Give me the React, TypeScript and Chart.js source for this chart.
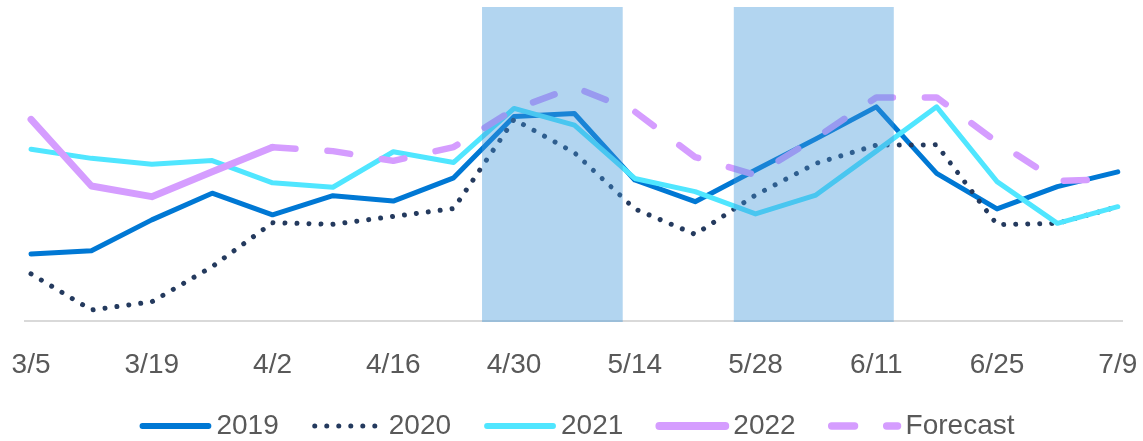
import React, { useEffect, useRef } from 'react';
import { Chart, registerables } from 'chart.js';

Chart.register(...registerables);

const weekLabels = ['3/5', '3/12', '3/19', '3/26', '4/2', '4/9', '4/16', '4/23', '4/30', '5/7', '5/14', '5/21', '5/28', '6/4', '6/11', '6/18', '6/25', '7/2', '7/9'];
const tickIndexes = [0, 2, 4, 6, 8, 10, 12, 14, 16, 18];

const series2019 = [21.3, 22.4, 32.2, 40.7, 33.8, 39.9, 38.2, 45.6, 65.1, 66.1, 44.9, 38.0, 48.1, 58.0, 68.2, 47.0, 35.7, 42.8, 47.5];
const series2020 = [15.0, 3.5, 6.1, 17.3, 31.3, 30.8, 33.3, 35.8, 64.2, 53.6, 35.7, 27.6, 40.1, 50.2, 56.0, 56.1, 30.7, 31.1, 36.4];
const series2021 = [54.7, 51.8, 49.9, 51.1, 44.0, 42.6, 53.9, 50.5, 67.7, 62.4, 45.4, 41.2, 34.1, 40.1, 54.1, 68.2, 44.4, 31.1, 36.4];
const series2022 = [64.2, 43.0, 39.6, 47.5, 55.3, null, null, null, null, null, null, null, null, null, null, null, null, null, null];
const seriesForecast = [null, null, null, null, 55.3, 54.1, 51.0, 55.4, 67.4, 74.5, 66.7, 52.2, 46.5, 58.3, 71.2, 71.2, 57.0, 44.6, 45.2];

// shaded periods, in week-index units
const shadeStart = [7.47, 11.64];
const shadeEnd = [9.8, 14.29];

const toPoints = (arr: (number | null)[]) => arr.map((v, i) => ({ x: i, y: v }));

function pickFont() {
  const c = document.createElement('canvas').getContext('2d');
  if (!c) return { family: '"Liberation Sans", Arial, sans-serif', size: 28 };
  c.font = '100px "Liberation Sans Narrow", monospace';
  const a = c.measureText('2019 Forecast').width;
  c.font = '100px monospace';
  const b = c.measureText('2019 Forecast').width;
  if (Math.abs(a - b) > 1) return { family: '"Liberation Sans Narrow", "Liberation Sans", sans-serif', size: 34 };
  return { family: '"Liberation Sans", Arial, sans-serif', size: 28 };
}

export default function App() {
  const ref = useRef<HTMLCanvasElement>(null);

  useEffect(() => {
    if (!ref.current) return;
    const font = pickFont();
    Chart.defaults.font.family = font.family;

    const shadePlugin = {
      id: 'shade',
      afterDatasetsDraw(chart: any) {
        const { ctx, chartArea, scales } = chart;
        const x = scales.x;
        ctx.save();
        ctx.fillStyle = 'rgba(62,150,217,0.4)';
        shadeStart.forEach((s, k) => {
          const x0 = x.getPixelForValue(s);
          const x1 = x.getPixelForValue(shadeEnd[k]);
          ctx.fillRect(x0, chartArea.top, x1 - x0, chartArea.bottom - chartArea.top + 1);
        });
        ctx.restore();
      },
    };

    const legendPlugin = {
      id: 'lineLegend',
      afterDraw(chart: any) {
        const { ctx, width, height } = chart;
        const ds = chart.data.datasets;
        const L = 66, gap = 8, spacing = 36;
        ctx.save();
        ctx.font = `${font.size}px ${font.family}`;
        const widths = ds.map((d: any) => ctx.measureText(d.label).width);
        const total = widths.reduce((a: number, w: number) => a + L + gap + w, 0) + spacing * (ds.length - 1);
        let x = width / 2 + 7 - total / 2;
        const y = height - 15;
        ds.forEach((d: any, i: number) => {
          ctx.beginPath();
          ctx.setLineDash(d.borderDash || []);
          ctx.lineCap = 'round';
          ctx.lineWidth = d.borderDash && d.borderDash[0] < 1 ? d.borderWidth : d.borderWidth + 0.8;
          ctx.strokeStyle = d.borderColor;
          ctx.moveTo(x, y);
          ctx.lineTo(x + L, y);
          ctx.stroke();
          ctx.setLineDash([]);
          ctx.fillStyle = '#595959';
          ctx.textBaseline = 'middle';
          ctx.textAlign = 'left';
          ctx.fillText(d.label, x + L + gap, y);
          x += L + gap + widths[i] + spacing;
        });
        ctx.restore();
      },
    };

    const common = { borderCapStyle: 'round', borderJoinStyle: 'round', pointRadius: 0, tension: 0, fill: false };

    const chart = new Chart(ref.current, {
      type: 'line',
      data: {
        datasets: [
          { ...common, label: '2019', data: toPoints(series2019), borderColor: '#0078D4', borderWidth: 5, order: 5 },
          { ...common, label: '2020', data: toPoints(series2020), borderColor: '#243A5E', borderWidth: 5, borderDash: [0.01, 12], order: 4 },
          { ...common, label: '2021', data: toPoints(series2021), borderColor: '#50E6FF', borderWidth: 5, order: 3 },
          { ...common, label: '2022', data: toPoints(series2022), borderColor: '#D59DFF', borderWidth: 7, order: 2 },
          { ...common, label: 'Forecast', data: toPoints(seriesForecast), borderColor: '#D59DFF', borderWidth: 6.5, borderDash: [23, 32], order: 1 },
        ] as any,
      },
      options: {
        responsive: true,
        maintainAspectRatio: false,
        animation: false,
        layout: { padding: { left: 25, right: 21, top: 7, bottom: 0 } },
        plugins: { legend: { display: false }, tooltip: { enabled: false } },
        scales: {
          x: {
            type: 'linear',
            min: -0.1,
            max: 18.07,
            grid: { display: false, drawTicks: false },
            border: { display: true, color: '#d9d9d9', width: 2 },
            afterBuildTicks: (s: any) => {
              s.ticks = tickIndexes.map((v) => ({ value: v }));
            },
            afterFit: (s: any) => {
              s.paddingLeft = 0;
              s.paddingRight = 0;
              s.paddingTop = 0;
              s.paddingBottom = 0;
              s.height = 120;
            },
            ticks: {
              padding: 27,
              color: '#595959',
              font: { size: font.size, lineHeight: 1.2 },
              autoSkip: false,
              maxRotation: 0,
              callback: (v: any) => weekLabels[v] ?? '',
            },
          },
          y: { display: false, min: 0, max: 100 },
        },
      } as any,
      plugins: [shadePlugin, legendPlugin],
    });
    return () => chart.destroy();
  }, []);

  return (
    <div style={{ position: 'absolute', left: 0, top: 0, width: 1143, height: 441 }}>
      <canvas ref={ref} />
    </div>
  );
}
